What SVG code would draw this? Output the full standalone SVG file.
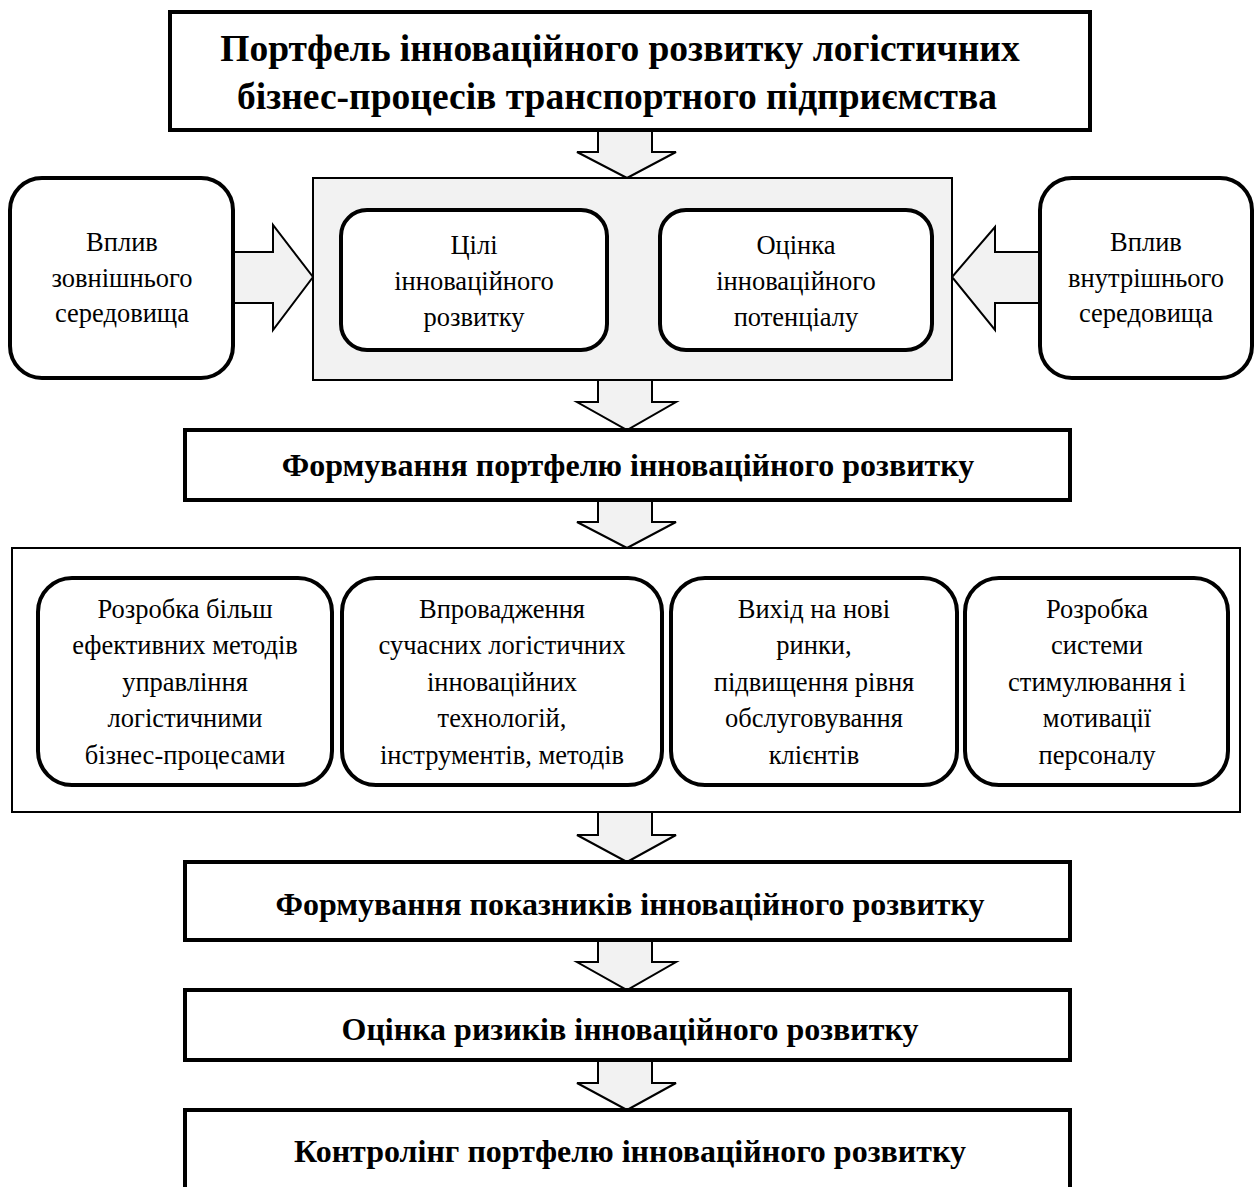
<svg xmlns="http://www.w3.org/2000/svg" width="1254" height="1187" viewBox="0 0 1254 1187">
<style>
.bx{fill:#fff;stroke:#000;stroke-width:4}
.rb{fill:#fff;stroke:#000;stroke-width:4}
.thin{stroke:#000;stroke-width:2}
.arr{fill:#f2f2f2;stroke:#000;stroke-width:2;stroke-linejoin:miter}
.t{font-family:"Liberation Serif","Times New Roman",serif;font-size:26.5px;text-anchor:middle;fill:#000}
.b{font-family:"Liberation Serif","Times New Roman",serif;font-weight:bold;font-size:32px;text-anchor:middle;fill:#000}
.h{font-family:"Liberation Serif","Times New Roman",serif;font-weight:bold;font-size:37.5px;text-anchor:middle;fill:#000}
</style>
<rect width="1254" height="1187" fill="#fff"/>
<g id="connectors">
<polygon class="arr" points="598,130 652,130 652,152 676,152 627,178 577,152 598,152"/>
<polygon class="arr" points="598,380 652,380 652,402 676,402 627,430 577,402 598,402"/>
<polygon class="arr" points="598,500 652,500 652,522 676,522 627,548 577,522 598,522"/>
<polygon class="arr" points="598,812 652,812 652,835 676,835 627,862 577,835 598,835"/>
<polygon class="arr" points="598,940 652,940 652,962 676,962 627,990 577,962 598,962"/>
<polygon class="arr" points="598,1060 652,1060 652,1083 676,1083 627,1110 577,1083 598,1083"/>
<polygon class="arr" points="233,252 273,252 273,225 313,277 273,330 273,303 233,303"/>
<polygon class="arr" points="1040,252 995,252 995,227 952,277 995,330 995,303 1040,303"/>
</g>
<g id="title">
<rect class="bx" x="170" y="12" width="920" height="118"/>
<text class="h" x="620" y="61">Портфель інноваційного розвитку логістичних</text>
<text class="h" x="617" y="109">бізнес-процесів транспортного підприємства</text>
</g>
<g id="core">
<rect class="thin" x="313" y="178" width="639" height="202" fill="#f2f2f2"/>
</g>
<g id="goals">
<rect class="rb" x="341" y="210" width="266" height="140" rx="26"/>
<text class="t" x="474" y="254">Цілі</text>
<text class="t" x="474" y="290">інноваційного</text>
<text class="t" x="474" y="326">розвитку</text>
</g>
<g id="potential">
<rect class="rb" x="660" y="210" width="272" height="140" rx="26"/>
<text class="t" x="796" y="254">Оцінка</text>
<text class="t" x="796" y="290">інноваційного</text>
<text class="t" x="796" y="326">потенціалу</text>
</g>
<g id="external">
<rect class="rb" x="10" y="178" width="223" height="200" rx="32"/>
<text class="t" x="122" y="251">Вплив</text>
<text class="t" x="122" y="287">зовнішнього</text>
<text class="t" x="122" y="322">середовища</text>
</g>
<g id="internal">
<rect class="rb" x="1040" y="178" width="212" height="200" rx="32"/>
<text class="t" x="1146" y="251">Вплив</text>
<text class="t" x="1146" y="287">внутрішнього</text>
<text class="t" x="1146" y="322">середовища</text>
</g>
<g id="forming">
<rect class="bx" x="185" y="430" width="885" height="70"/>
<text class="b" x="628" y="476">Формування портфелю інноваційного розвитку</text>
</g>
<g id="directions">
<rect class="thin" x="12" y="548" width="1228" height="264" fill="#fff"/>
</g>
<g id="d1">
<rect class="rb" x="38" y="578" width="294" height="207" rx="34"/>
<text class="t" x="185" y="617.5">Розробка більш</text>
<text class="t" x="185" y="654">ефективних методів</text>
<text class="t" x="185" y="690.5">управління</text>
<text class="t" x="185" y="727">логістичними</text>
<text class="t" x="185" y="763.5">бізнес-процесами</text>
</g>
<g id="d2">
<rect class="rb" x="342" y="578" width="320" height="207" rx="34"/>
<text class="t" x="502" y="617.5">Впровадження</text>
<text class="t" x="502" y="654">сучасних логістичних</text>
<text class="t" x="502" y="690.5">інноваційних</text>
<text class="t" x="502" y="727">технологій,</text>
<text class="t" x="502" y="763.5">інструментів, методів</text>
</g>
<g id="d3">
<rect class="rb" x="671" y="578" width="286" height="207" rx="34"/>
<text class="t" x="814" y="617.5">Вихід на нові</text>
<text class="t" x="814" y="654">ринки,</text>
<text class="t" x="814" y="690.5">підвищення рівня</text>
<text class="t" x="814" y="727">обслуговування</text>
<text class="t" x="814" y="763.5">клієнтів</text>
</g>
<g id="d4">
<rect class="rb" x="965" y="578" width="263" height="207" rx="34"/>
<text class="t" x="1097" y="617.5">Розробка</text>
<text class="t" x="1097" y="654">системи</text>
<text class="t" x="1097" y="690.5">стимулювання і</text>
<text class="t" x="1097" y="727">мотивації</text>
<text class="t" x="1097" y="763.5">персоналу</text>
</g>
<g id="indicators">
<rect class="bx" x="185" y="862" width="885" height="78"/>
<text class="b" x="630" y="915">Формування показників інноваційного розвитку</text>
</g>
<g id="risks">
<rect class="bx" x="185" y="990" width="885" height="70"/>
<text class="b" x="630" y="1040">Оцінка ризиків інноваційного розвитку</text>
</g>
<g id="control">
<rect class="bx" x="185" y="1110" width="885" height="82"/>
<text class="b" x="630" y="1162">Контролінг портфелю інноваційного розвитку</text>
</g>
</svg>
